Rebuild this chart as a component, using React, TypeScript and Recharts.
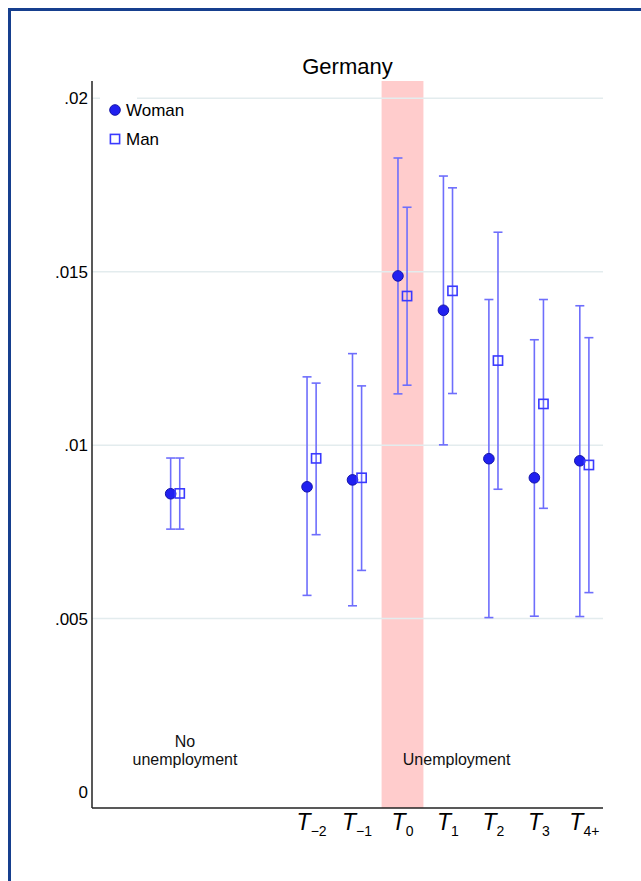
import React from 'react';
import {
  ScatterChart,
  Scatter,
  XAxis,
  YAxis,
  ErrorBar,
  ReferenceArea,
  ReferenceLine,
  ReferenceDot,
} from 'recharts';

// x position of each group: 0 = no unemployment, 3..9 = T-2 .. T4+
const positions = [0, 3, 4, 5, 6, 7, 8, 9];

const womanEst = [0.0086, 0.0088, 0.009, 0.01488, 0.01389, 0.00961, 0.00906, 0.00955];
const womanLo = [0.00758, 0.00567, 0.00537, 0.01148, 0.01001, 0.00503, 0.00507, 0.00506];
const womanHi = [0.00963, 0.01197, 0.01264, 0.01828, 0.01776, 0.0142, 0.01304, 0.01402];

const manEst = [0.00861, 0.00962, 0.00906, 0.0143, 0.01445, 0.01244, 0.01119, 0.00943];
const manLo = [0.00758, 0.00742, 0.00639, 0.01173, 0.01149, 0.00873, 0.00818, 0.00575];
const manHi = [0.00963, 0.01179, 0.01171, 0.01686, 0.01742, 0.01614, 0.0142, 0.0131];

const tickValues = [3, 4, 5, 6, 7, 8, 9];
const tickSubs = ['\u22122', '\u22121', '0', '1', '2', '3', '4+'];

const yTicks = [0, 0.005, 0.01, 0.015, 0.02];
const gridValues = [0.005, 0.01, 0.015, 0.02];

const groupLabelX = [0.215, 6.19];
const groupLabelText = [['No', 'unemployment'], ['Unemployment']];

const DODGE = 0.1;
const FONT = '"Liberation Sans", Arial, Helvetica, sans-serif';
const LINE_GAP = 17.5;

const womanData = positions.map((p, i) => ({
  x: p - DODGE,
  y: womanEst[i],
  err: [womanEst[i] - womanLo[i], womanHi[i] - womanEst[i]],
}));

const manData = positions.map((p, i) => ({
  x: p + DODGE,
  y: manEst[i],
  err: [manEst[i] - manLo[i], manHi[i] - manEst[i]],
}));

const fmtY = (v: number) => (v === 0 ? '0' : String(v).replace(/^0/, ''));

const XTick = (props: any) => {
  const { x, y, payload } = props;
  const i = tickValues.indexOf(payload.value);
  return (
    <text x={x} y={y + 22} textAnchor="middle" fill="#000">
      <tspan fontStyle="italic" fontSize={23}>T</tspan>
      <tspan fontSize={14} dy={6}>{tickSubs[i]}</tspan>
    </text>
  );
};

const WomanDot = (p: any) => (
  <circle cx={p.cx} cy={p.cy} r={5.3} fill="#2020f0" stroke="#1414a8" strokeWidth={1} />
);

const ManSquare = (p: any) => (
  <rect
    x={p.cx - 4.6}
    y={p.cy - 4.6}
    width={9.2}
    height={9.2}
    fill="none"
    stroke="#3a3aff"
    strokeWidth={1.6}
  />
);

const App = () => {
  return (
    <div
      style={{
        position: 'absolute',
        left: 0,
        top: 0,
        width: 641,
        height: 881,
        overflow: 'hidden',
        background: '#fff',
        fontFamily: FONT,
      }}
    >
      <div
        style={{
          position: 'absolute',
          left: 8,
          top: 8,
          width: 700,
          height: 900,
          borderLeft: '3px solid #163f8e',
          borderTop: '3px solid #163f8e',
        }}
      />
      <div
        style={{
          position: 'absolute',
          left: 92,
          top: 54,
          width: 511,
          textAlign: 'center',
          fontSize: 22,
          color: '#000',
        }}
      >
        Germany
      </div>

      <div style={{ position: 'absolute', left: 0, top: 0 }}>
        <ScatterChart
          width={641}
          height={881}
          margin={{ top: 81, right: 38, bottom: 23, left: 0 }}
        >
          <ReferenceArea x1={4.54} x2={5.46} fill="#ffcccc" fillOpacity={1} stroke="none" ifOverflow="visible" />
          {gridValues.map((v) => (
            <ReferenceLine key={v} y={v} stroke="#e3ecee" strokeWidth={1.5} />
          ))}
          <XAxis
            dataKey="x"
            type="number"
            domain={[-1.83, 9.41]}
            allowDataOverflow
            ticks={tickValues}
            interval={0}
            tick={<XTick />}
            tickLine={false}
            tickSize={0}
            tickMargin={0}
            axisLine={{ stroke: '#222', strokeWidth: 1.5 }}
            height={50}
          />
          <YAxis
            dataKey="y"
            type="number"
            domain={[-0.00046, 0.0205]}
            allowDataOverflow
            ticks={yTicks}
            interval={0}
            tickFormatter={fmtY}
            tick={{ fill: '#000', fontSize: 17 }}
            tickLine={false}
            tickSize={0}
            tickMargin={4}
            axisLine={{ stroke: '#222', strokeWidth: 1.5 }}
            width={92}
          />
          {groupLabelX.map((gx, gi) => (
            <ReferenceDot
              key={gx}
              x={gx}
              y={0.00078}
              r={0}
              ifOverflow="visible"
              shape={(p: any) => (
                <text x={p.cx} y={p.cy} textAnchor="middle" fontSize={16} fill="#111">
                  {groupLabelText[gi].map((line, li) => (
                    <tspan
                      key={line}
                      x={p.cx}
                      dy={li === 0 ? -(groupLabelText[gi].length - 1) * LINE_GAP : LINE_GAP}
                    >
                      {line}
                    </tspan>
                  ))}
                </text>
              )}
            />
          ))}
          <Scatter data={womanData} name="Woman" shape={WomanDot} isAnimationActive={false}>
            <ErrorBar dataKey="err" direction="y" width={4.5} stroke="#6e6efc" strokeWidth={1.6} />
          </Scatter>
          <Scatter data={manData} name="Man" shape={ManSquare} isAnimationActive={false}>
            <ErrorBar dataKey="err" direction="y" width={4.5} stroke="#6e6efc" strokeWidth={1.6} />
          </Scatter>
        </ScatterChart>
      </div>

      <div style={{ position: 'absolute', left: 100, top: 94, width: 37, height: 6, background: '#fff' }} />
      <svg style={{ position: 'absolute', left: 108, top: 103 }} width={14} height={14}>
        <circle cx={7} cy={7} r={5.3} fill="#2020f0" stroke="#1414a8" strokeWidth={1} />
      </svg>
      <div style={{ position: 'absolute', left: 126, top: 100.6, fontSize: 17, color: '#000' }}>Woman</div>
      <svg style={{ position: 'absolute', left: 108, top: 132 }} width={14} height={14}>
        <rect x={2.4} y={2.4} width={9.2} height={9.2} fill="none" stroke="#3a3aff" strokeWidth={1.6} />
      </svg>
      <div style={{ position: 'absolute', left: 126, top: 129.6, fontSize: 17, color: '#000' }}>Man</div>
    </div>
  );
};

export default App;
